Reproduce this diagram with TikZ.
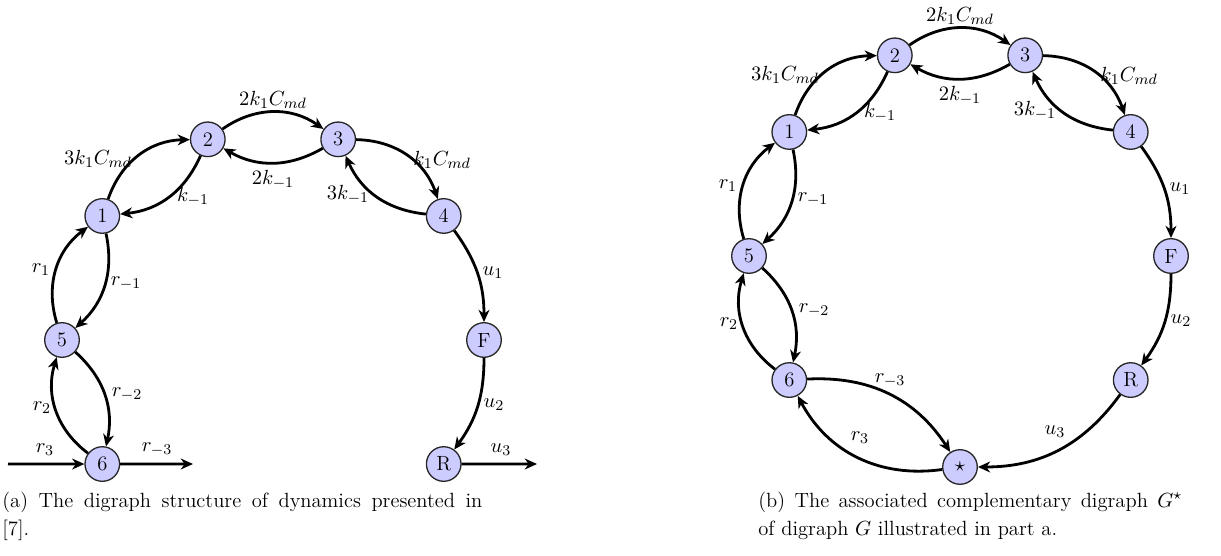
\documentclass[tikz,border=0pt]{standalone}
\usetikzlibrary{arrows.meta}
\tikzset{
  vtx/.style={circle, draw=black!85, line width=0.7pt, fill=blue!20, minimum size=18.5pt, inner sep=0pt, font=\fontsize{11}{13}\selectfont},
  conn/.style={line width=1.5pt, -{Stealth[length=6.5pt,width=5.8pt,inset=2pt]}},
  lbl/.style={inner sep=0pt, font=\fontsize{11}{13}\selectfont},
  captxt/.style={inner sep=0pt, anchor=base west, align=justify, font=\fontsize{11}{15.5}\selectfont},
  outbend/.style={bend left=35},
  inbend/.style={bend left=30}
}
\newcommand\coregraph[1]{%
  \node[vtx] (#11) at (144:211) {1};
  \node[vtx] (#12) at (108:211) {2};
  \node[vtx] (#13) at (72:211) {3};
  \node[vtx] (#14) at (36:211) {4};
  \node[vtx] (#15) at (180:211) {5};
  \node[vtx] (#1F) at (0:211) {F};
  \node[vtx] (#1R) at (-36:211) {R};
  \node[vtx] (#16) at (-144:211) {6};
  \draw[conn] (#11) to[outbend] (#12);
  \draw[conn] (#12) to[inbend] (#11);
  \draw[conn] (#12) to[outbend] (#13);
  \draw[conn] (#13) to[inbend] (#12);
  \draw[conn] (#13) to[outbend] (#14);
  \draw[conn] (#14) to[inbend] (#13);
  \draw[conn] (#15) to[outbend] (#11);
  \draw[conn] (#11) to[inbend] (#15);
  \draw[conn] (#16) to[outbend] (#15);
  \draw[conn] (#15) to[inbend] (#16);
  \draw[conn] (#14) to[bend left=18] (#1F);
  \draw[conn] (#1F) to[bend left=18] (#1R);
  \node[lbl] (#1l12) at (-175,181) {$3k_1C_{md}$};
  \node[lbl] (#1l23) at (0,240) {$2k_1C_{md}$};
  \node[lbl] (#1l32) at (0,160) {$2k_{-1}$};
  \node[lbl] (#1l21) at (-80,143) {$k_{-1}$};
  \node[lbl] (#1l34) at (169,180) {$k_1C_{md}$};
  \node[lbl] (#1l43) at (75,145) {$3k_{-1}$};
  \node[lbl] (#1l51) at (-232,70) {$r_1$};
  \node[lbl] (#1l15) at (-147,57) {$r_{-1}$};
  \node[lbl] (#1l56) at (-146,-54) {$r_{-2}$};
  \node[lbl] (#1l65) at (-231,-68) {$r_2$};
  \node[lbl] (#1l4F) at (220,67) {$u_1$};
  \node[lbl] (#1lFR) at (221,-65) {$u_2$};
}
\begin{document}
\begin{tikzpicture}[x=0.5348pt, y=0.5348pt]
  \useasboundingbox (0,0) rectangle (1221,-556);
  % (a)
  \begin{scope}[shift={(273,-340)}]
    \coregraph{a}
    \coordinate (ain) at (-265,-124);
    \coordinate (aout) at (-80,-124);
    \coordinate (aend) at (264,-124);
    \draw[conn] (ain) -- (a6);
    \draw[conn] (a6) -- (aout);
    \draw[conn] (aR) -- (aend);
    \node[lbl] (al3) at (-228,-110) {$r_3$};
    \node[lbl] (alm3) at (-116,-109) {$r_{-3}$};
    \node[lbl] (alu3) at (228,-110) {$u_3$};
  \end{scope}
  % (b)
  \begin{scope}[shift={(960,-256)}]
    \coregraph{b}
    \node[vtx] (bs) at (-90:211) {$\star$};
    \draw[conn] (bR) to[bend left=27] (bs);
    \draw[conn] (b6) to[inbend] (bs);
    \draw[conn] (bs) to[outbend] (b6);
    \node[lbl] (blu3) at (95,-176) {$u_3$};
    \node[lbl] (blm3) at (-70,-124) {$r_{-3}$};
    \node[lbl] (bl3) at (-100,-182) {$r_3$};
  \end{scope}
  % captions
  \node[captxt, text width=256.7pt] (capa) at (2,-507) {(a) The digraph structure of dynamics presented in\linebreak{}[7].};
  \node[captxt, text width=226.7pt] (capb) at (758,-507) {(b) The associated complementary digraph $G^\star$\linebreak{} of digraph $G$ illustrated in part a.};
\end{tikzpicture}
\end{document}
